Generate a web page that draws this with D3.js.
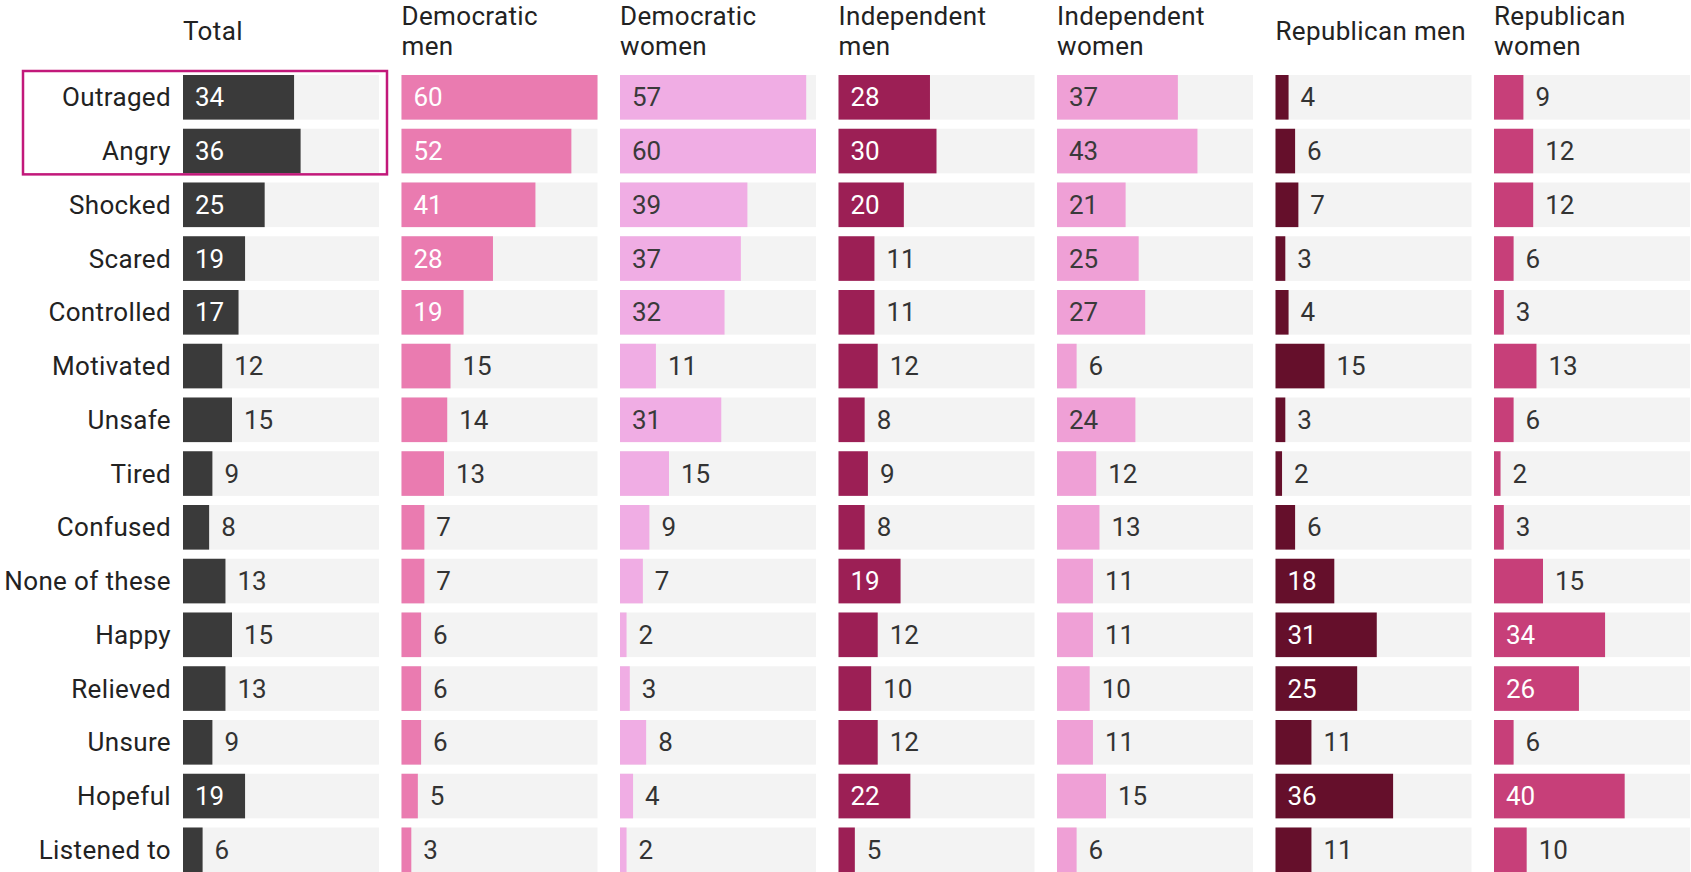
<!DOCTYPE html>
<html>
<head>
<meta charset="utf-8">
<script src="https://cdn.jsdelivr.net/npm/d3@7"></script>
<style>
    body { margin: 0; background: #fff; overflow: hidden; }
    text { font-family: Roboto, "Noto Sans", sans-serif; }
    .label, .header { letter-spacing: 0.35px; }
</style>
</head>
<body>
<div id="chart"></div>
<script>

// data
var emotions = ["Outraged", "Angry", "Shocked", "Scared", "Controlled", "Motivated", "Unsafe",
    "Tired", "Confused", "None of these", "Happy", "Relieved", "Unsure", "Hopeful", "Listened to"];

var groups = ["Total", "Democratic men", "Democratic women", "Independent men",
    "Independent women", "Republican men", "Republican women"];

// header lines as they wrap in the picture
var headerLines = [["Total"], ["Democratic", "men"], ["Democratic", "women"], ["Independent", "men"],
    ["Independent", "women"], ["Republican men"], ["Republican", "women"]];

var total            = [34, 36, 25, 19, 17, 12, 15, 9, 8, 13, 15, 13, 9, 19, 6];
var democraticMen    = [60, 52, 41, 28, 19, 15, 14, 13, 7, 7, 6, 6, 6, 5, 3];
var democraticWomen  = [57, 60, 39, 37, 32, 11, 31, 15, 9, 7, 2, 3, 8, 4, 2];
var independentMen   = [28, 30, 20, 11, 11, 12, 8, 9, 8, 19, 12, 10, 12, 22, 5];
var independentWomen = [37, 43, 21, 25, 27, 6, 24, 12, 13, 11, 11, 10, 11, 15, 6];
var republicanMen    = [4, 6, 7, 3, 4, 15, 3, 2, 6, 18, 31, 25, 11, 36, 11];
var republicanWomen  = [9, 12, 12, 6, 3, 13, 6, 2, 3, 15, 34, 26, 6, 40, 10];

var series = [total, democraticMen, democraticWomen, independentMen,
    independentWomen, republicanMen, republicanWomen];

// emotions highlighted with the box
var highlighted = ["Outraged", "Angry"];

// styles
var barColors  = ["#3a3a3a", "#ea7bb0", "#f0ade4", "#9c1f55", "#efa0d6", "#650f2b", "#c73f79"];
var innerText  = ["#fff", "#fff", "#3a3a3a", "#fff", "#3a3a3a", "#fff", "#fff"];
var trackColor = "#f3f3f3";
var fontSize = 26;

var width = 1691, height = 872;

var svg = d3.select("#chart").append("svg")
    .attr("width", width)
    .attr("height", height);

// column positions
var col = d3.scaleBand()
    .domain(groups)
    .range([183, 1690])
    .paddingInner(0.103)
    .paddingOuter(0);

// row positions
var y = d3.scaleBand()
    .domain(emotions)
    .range([75, 75 + 53.75 * (emotions.length - 0.17)])
    .paddingInner(0.17)
    .paddingOuter(0);

// value scale inside a column
var x = d3.scaleLinear()
    .domain([0, 60])
    .range([0, col.bandwidth()]);

// headers
groups.forEach(function(g, i) {
    var lines = headerLines[i];
    var t = svg.append("text")
        .attr("class", "header")
        .attr("x", col(g))
        .attr("y", lines.length == 1 ? 40 : 25)
        .attr("font-size", fontSize)
        .attr("fill", "#222");
    lines.forEach(function(l, j) {
        t.append("tspan")
            .attr("x", col(g))
            .attr("dy", j == 0 ? 0 : 30)
            .text(l);
    });
});

// category labels
svg.selectAll(".label")
    .data(emotions)
    .enter().append("text")
    .attr("class", "label")
    .attr("x", col(groups[0]) - 12)
    .attr("y", function(d) { return y(d) + y.bandwidth() / 2; })
    .attr("dy", "0.35em")
    .attr("text-anchor", "end")
    .attr("font-size", fontSize)
    .attr("fill", "#222")
    .text(function(d) { return d; });

// one column per group
groups.forEach(function(g, i) {
    var rows = emotions.map(function(e, k) { return {emotion: e, value: series[i][k]}; });
    var gCol = svg.append("g")
        .attr("transform", "translate(" + col(g) + ",0)");

    // background tracks
    gCol.selectAll(".track")
        .data(rows)
        .enter().append("rect")
        .attr("class", "track")
        .attr("x", 0)
        .attr("y", function(d) { return y(d.emotion); })
        .attr("width", col.bandwidth())
        .attr("height", y.bandwidth())
        .attr("fill", trackColor);

    // bars
    gCol.selectAll(".bar")
        .data(rows)
        .enter().append("rect")
        .attr("class", "bar")
        .attr("x", 0)
        .attr("y", function(d) { return y(d.emotion); })
        .attr("width", function(d) { return x(d.value); })
        .attr("height", y.bandwidth())
        .attr("fill", barColors[i]);

    // values, inside the bar when there is room
    gCol.selectAll(".value")
        .data(rows)
        .enter().append("text")
        .attr("class", "value")
        .attr("x", function(d) { return d.value >= 16 ? 12 : x(d.value) + 12; })
        .attr("y", function(d) { return y(d.emotion) + y.bandwidth() / 2; })
        .attr("dy", "0.35em")
        .attr("font-size", fontSize)
        .attr("fill", function(d) { return d.value >= 16 ? innerText[i] : "#333"; })
        .text(function(d) { return d.value; });
});

// highlight box around the first rows of Total
var hTop = y(highlighted[0]) - 4;
var hBottom = y(highlighted[highlighted.length - 1]) + y.bandwidth() + 1;
svg.append("rect")
    .attr("x", 23)
    .attr("y", hTop)
    .attr("width", col(groups[0]) + col.bandwidth() + 8 - 23)
    .attr("height", hBottom - hTop)
    .attr("fill", "none")
    .attr("stroke", "#c2187a")
    .attr("stroke-width", 2.5);

</script>
</body>
</html>
